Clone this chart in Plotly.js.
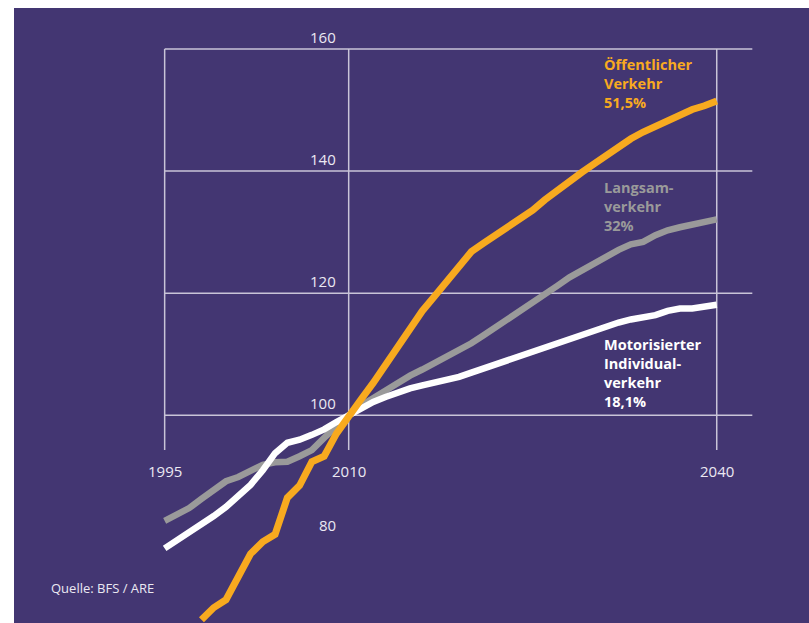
<!DOCTYPE html>
<html>
<head>
<meta charset="utf-8">
<script src="https://cdn.plot.ly/plotly-3.0.1.min.js"></script>
<style>html,body{margin:0;padding:0;background:#fff;}#chart{width:809px;height:623px;}</style>
</head>
<body>
<div id="chart"></div>
<script>
// Index 2010 = 100
const yearsOV = [1998,1999,2000,2001,2002,2003,2004,2005,2006,2007,2008,2009,2010,
  2011,2012,2013,2014,2015,2016,2017,2018,2019,2020,2021,2022,2023,2024,2025,2026,2027,2028,2029,2030,
  2031,2032,2033,2034,2035,2036,2037,2038,2039,2040];
const oeffentlicherVerkehr = [66.5,68.5,69.8,73.6,77.3,79.3,80.5,86.5,88.5,92.4,93.3,97.0,100,
  102.6,105.3,108.3,111.2,114.3,117.1,119.5,121.9,124.4,126.8,128.2,129.5,130.8,132.3,133.6,135.3,136.9,138.3,139.8,141.2,
  142.6,144.0,145.3,146.4,147.4,148.3,149.1,150.1,150.7,151.5];

const years = [1995,1996,1997,1998,1999,2000,2001,2002,2003,2004,2005,2006,2007,2008,2009,2010,
  2011,2012,2013,2014,2015,2016,2017,2018,2019,2020,2021,2022,2023,2024,2025,2026,2027,2028,2029,2030,
  2031,2032,2033,2034,2035,2036,2037,2038,2039,2040];
const langsamverkehr = [82.7,83.7,84.8,86.3,87.8,89.2,89.9,90.8,91.9,92.3,92.4,93.3,94.3,96.3,98.3,100,
  101.6,102.9,104.2,105.4,106.5,107.5,108.5,109.5,110.5,111.8,113.1,114.4,115.7,117.0,118.3,119.9,121.2,122.6,123.8,124.8,
  126.0,127.1,128.0,128.4,129.5,130.3,130.8,131.3,131.8,132.1];
const motorisierterIV = [78.2,79.5,80.8,82.0,83.5,85.0,86.8,88.6,91.0,93.8,95.5,96.0,96.8,97.7,98.9,100,
  101.2,102.2,103.0,103.8,104.4,104.9,105.3,105.8,106.3,107.0,107.7,108.4,109.0,109.8,110.5,111.1,111.8,112.6,113.3,114.0,
  114.6,115.2,115.7,116.0,116.4,117.1,117.5,117.5,117.8,118.1];

const yTicks = [160,140,120,100,80];
const xTicks = [1995,2010,2040];
const gridY = [100,120,140,160];
const seriesLabels = {
  ov: 'Öffentlicher<br>Verkehr<br>51,5%',
  lv: 'Langsam-<br>verkehr<br>32%',
  miv: 'Motorisierter<br>Individual-<br>verkehr<br>18,1%'
};
const source = 'Quelle: BFS / ARE';

const PURPLE = '#433672';
const ORANGE = '#f8aa1f';
const GREY = '#9a9a9a';
const GRID = '#c9c4d8';
const TXT = '#ebe9f2';
const FONT = 'Open Sans, Noto Sans, sans-serif';

const traces = [
  {x: years, y: langsamverkehr, mode:'lines', line:{color:GREY, width:6.5}, hoverinfo:'skip'},
  {x: years, y: motorisierterIV, mode:'lines', line:{color:'#ffffff', width:6.5}, hoverinfo:'skip'},
  {x: yearsOV, y: oeffentlicherVerkehr, mode:'lines', line:{color:ORANGE, width:7}, hoverinfo:'skip'}
];

const shapes = [];
gridY.forEach(v => shapes.push({type:'line', xref:'x', yref:'y', x0:1995, x1:2042.9, y0:v, y1:v,
  line:{color:GRID, width:1.5}, layer:'below'}));
xTicks.forEach(t => shapes.push({type:'line', xref:'x', yref:'y', x0:t, x1:t, y0:94.3, y1:160,
  line:{color:GRID, width:1.5}, layer:'below'}));

const annotations = [];
yTicks.forEach(v => annotations.push({x:2010, y:v, xref:'x', yref:'y', text:String(v), showarrow:false,
  xanchor:'right', yanchor:'middle', xshift:-11, yshift:12, font:{family:FONT, size:15, color:TXT}}));
xTicks.forEach(t => annotations.push({x:t, y:100, xref:'x', yref:'y', text:String(t), showarrow:false,
  xanchor:'center', yanchor:'middle', yshift:-56, font:{family:FONT, size:15, color:TXT}}));
annotations.push({x:2030.8, y:154.35, xref:'x', yref:'y', text:seriesLabels.ov, showarrow:false, align:'left',
  xanchor:'left', yanchor:'middle', xshift:-2, font:{family:FONT, size:14.5, color:ORANGE, weight:700}});
annotations.push({x:2030.8, y:134.28, xref:'x', yref:'y', text:seriesLabels.lv, showarrow:false, align:'left',
  xanchor:'left', yanchor:'middle', xshift:-2, font:{family:FONT, size:14.5, color:GREY, weight:700}});
annotations.push({x:2030.8, y:106.88, xref:'x', yref:'y', text:seriesLabels.miv, showarrow:false, align:'left',
  xanchor:'left', yanchor:'middle', xshift:-2, font:{family:FONT, size:14.5, color:'#ffffff', weight:700}});
annotations.push({x:1985.6, y:71.7, xref:'x', yref:'y', text:source, showarrow:false,
  xanchor:'left', yanchor:'middle', font:{family:FONT, size:13, color:TXT}});

const layout = {
  width:809, height:623,
  margin:{l:14, r:0, t:8, b:0, pad:0},
  paper_bgcolor:'#ffffff', plot_bgcolor:PURPLE,
  showlegend:false,
  xaxis:{range:[1982.72, 2047.52], visible:false, fixedrange:true},
  yaxis:{range:[65.98, 166.72], visible:false, fixedrange:true},
  shapes, annotations,
  font:{family:FONT}
};
Plotly.newPlot('chart', traces, layout, {displayModeBar:false, staticPlot:true});
</script>
</body>
</html>
